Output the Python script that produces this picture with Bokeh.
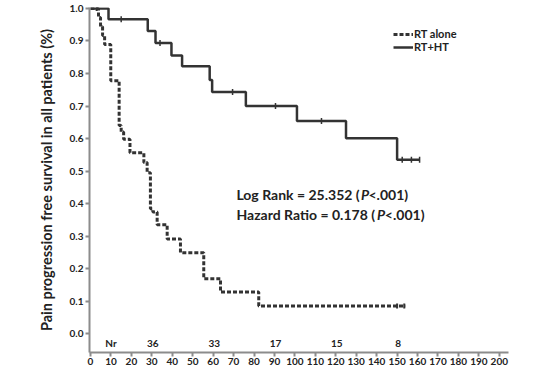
from bokeh.plotting import figure
from bokeh.models import (FixedTicker, PrintfTickFormatter, Label, Legend, LegendItem,
                          ColumnDataSource)
from bokeh.core.properties import value
from bokeh.embed import file_html
from bokeh.resources import INLINE
import math

# --- data ---
ht_time = [0, 8.8, 28.0, 31.8, 39.6, 44.8, 58.3, 59.5, 76.0, 101.0, 125.0, 150.0, 161.0]
ht_surv = [1.0, 0.967, 0.931, 0.894, 0.855, 0.822, 0.780, 0.743, 0.700, 0.654, 0.601, 0.535, 0.535]
ht_cens_time = [15.0, 34.0, 69.5, 90.5, 113.0, 152.5, 157.0, 161.0]
ht_cens_surv = [0.967, 0.894, 0.743, 0.700, 0.654, 0.535, 0.535, 0.535]

rt_time = [0, 3.9, 4.9, 5.9, 6.9, 9.9, 14.0, 15.0, 16.2, 19.3, 26.1, 27.7, 29.3, 30.5,
           32.6, 37.5, 44.0, 55.4, 63.6, 82.3, 154.0]
rt_surv = [1.0, 0.972, 0.944, 0.917, 0.889, 0.778, 0.640, 0.620, 0.598, 0.556, 0.526, 0.495,
           0.384, 0.374, 0.335, 0.291, 0.249, 0.169, 0.128, 0.085, 0.085]
rt_cens_time = [3.0, 150.0, 153.5]
rt_cens_surv = [1.0, 0.085, 0.085]

risk_time = [10, 30.5, 60.5, 90.5, 120.5, 150.5]
risk_label = ["Nr", "36", "33", "17", "15", "8"]

x_ticks = list(range(0, 201, 10))
y_ticks = [round(i * 0.1, 1) for i in range(11)]

FONT = "Lato"
DARK = "#222222"
LINE = "#333333"

p = figure(width=558, height=372, x_range=(-0.5, 204.5), y_range=(-0.058, 1.003),
           output_backend="svg", toolbar_location=None,
           min_border_left=89, min_border_right=50, min_border_top=7, min_border_bottom=20)
p.outline_line_color = None
p.xgrid.visible = False
p.ygrid.visible = False
p.background_fill_color = "white"

for ax in (p.xaxis[0], p.yaxis[0]):
    ax.axis_line_color = "#8c8c8c"
    ax.axis_line_width = 2
    ax.major_tick_line_color = "#8c8c8c"
    ax.major_tick_line_width = 2
    ax.major_tick_in = 0
    ax.major_tick_out = 4
    ax.minor_tick_line_color = None
    ax.major_label_text_font = FONT
    ax.major_label_text_font_style = "bold"
    ax.major_label_text_font_size = "10px"
    ax.major_label_text_color = DARK

p.xaxis.ticker = FixedTicker(ticks=x_ticks)
p.xaxis.major_label_standoff = 1
p.yaxis.ticker = FixedTicker(ticks=y_ticks)
p.yaxis.formatter = PrintfTickFormatter(format="%.1f")
p.yaxis.major_label_standoff = 2
p.yaxis.axis_label = "Pain progression free survival in all patients (%)"
p.yaxis.axis_label_text_font = FONT
p.yaxis.axis_label_text_font_style = "bold"
p.yaxis.axis_label_text_font_size = "14.5px"
p.yaxis.axis_label_text_color = DARK
p.yaxis.axis_label_standoff = 12

r_rt = p.step(rt_time, rt_surv, mode="after", line_color=LINE, line_width=3,
              line_dash="4 2")
p.scatter(rt_cens_time, rt_cens_surv, marker="dash", angle=math.pi / 2, size=5,
          line_color=LINE, line_width=2)
r_ht = p.step(ht_time, ht_surv, mode="after", line_color=LINE, line_width=2.5)
p.scatter(ht_cens_time, ht_cens_surv, marker="dash", angle=math.pi / 2, size=6,
          line_color=LINE, line_width=1.5)

src = ColumnDataSource(dict(x=risk_time, y=[-0.03] * len(risk_time), t=risk_label))
p.text(x="x", y="y", text="t", source=src, text_font=value(FONT), text_font_style="bold",
       text_font_size="10px", text_color=DARK, text_align="center", text_baseline="middle")

legend = Legend(items=[LegendItem(label="RT alone", renderers=[r_rt]),
                       LegendItem(label="RT+HT", renderers=[r_ht])],
                location=(304, 299), padding=0, margin=0, spacing=0,
                glyph_width=20, glyph_height=12, label_height=12, label_standoff=1,
                label_text_font=FONT, label_text_font_style="bold",
                label_text_font_size="11px", label_text_color=DARK,
                background_fill_alpha=0, border_line_color=None)
p.add_layout(legend)

def add_text(x, y, txt, style="bold"):
    p.add_layout(Label(x=x, y=y, text=txt, text_font=FONT, text_font_style=style,
                       text_font_size="14px", text_color=DARK, text_baseline="middle"))

add_text(71.4, 0.428, "Log Rank = 25.352 (")
add_text(132.3, 0.428, "P", "bold italic")
add_text(136.0, 0.428, "<.001)")
add_text(71.4, 0.365, "Hazard Ratio = 0.178 (")
add_text(140.2, 0.365, "P", "bold italic")
add_text(144.0, 0.365, "<.001)")

open("out.html", "w").write(file_html(p, INLINE))
